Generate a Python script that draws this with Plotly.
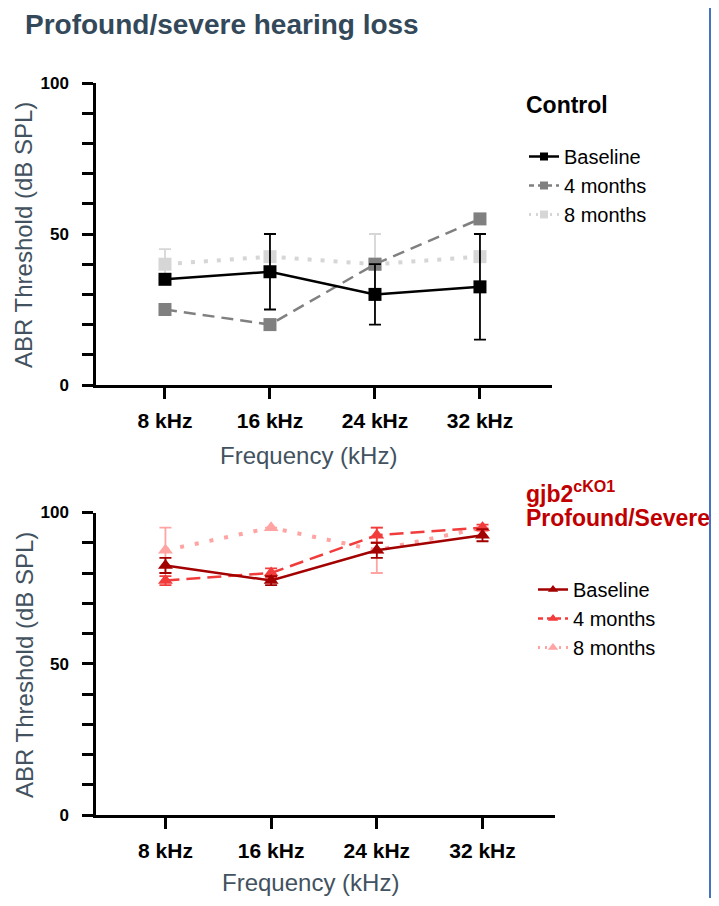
import plotly.graph_objects as go

# ---------------- data ----------------
freqs = ["8 kHz", "16 kHz", "24 kHz", "32 kHz"]
series_names = ["Baseline", "4 months", "8 months"]

# Control group (dB SPL)
ctrl_baseline = [35, 37.5, 30, 32.5]
ctrl_baseline_err = [0, 12.5, 10, 17.5]
ctrl_4m = [25, 20, 40, 55]
ctrl_4m_err = [0, 0, 0, 0]
ctrl_8m = [40, 42.5, 40, 42.5]
ctrl_8m_err = [5, 0, 10, 0]

# gjb2 cKO1 profound/severe group (dB SPL)
ko_baseline = [82.5, 77.5, 87.5, 92.5]
ko_baseline_err = [2.5, 1.5, 2.5, 2]
ko_4m = [77.5, 80, 92.5, 95]
ko_4m_err = [1.5, 1.5, 2.5, 1]
ko_8m = [87.5, 95, 87.5, 95]
ko_8m_err = [7.5, 0, 7.5, 0]

y_tick_vals = [0, 10, 20, 30, 40, 50, 60, 70, 80, 90, 100]
y_tick_text = ["0", "", "", "", "", "50", "", "", "", "", "100"]

# ---------------- figure ----------------
# page body has an 8px margin; keep the figure inside the 719x906 window
OFF = 8
W, H = 719 - 2 * OFF, 906 - 2 * OFF
fig = go.Figure()

ctrl_colors = ["#000000", "#808080", "#d6d6d6"]
ko_colors = ["#a30000", "#f23c3c", "#ffa3a3"]
ctrl_dash = ["solid", "12px,7px", "4px,9px"]
ko_dash = ["solid", "14px,7px", "4px,11px"]
widths = [2.5, 2.5, 4]

ctrl_data = [(ctrl_baseline, ctrl_baseline_err), (ctrl_4m, ctrl_4m_err), (ctrl_8m, ctrl_8m_err)]
ko_data = [(ko_baseline, ko_baseline_err), (ko_4m, ko_4m_err), (ko_8m, ko_8m_err)]

# draw 8 months first, baseline last (on top)
for i in [2, 1, 0]:
    vals, errs = ctrl_data[i]
    fig.add_trace(go.Scatter(
        x=freqs, y=vals, mode="lines+markers", showlegend=False,
        line=dict(color=ctrl_colors[i], width=widths[i], dash=ctrl_dash[i]),
        marker=dict(symbol="square", size=13, color=ctrl_colors[i]),
        error_y=dict(type="data", array=errs, visible=True, color=ctrl_colors[i],
                     thickness=1.8, width=6),
        xaxis="x", yaxis="y", cliponaxis=False))
for i in [2, 1, 0]:
    vals, errs = ko_data[i]
    fig.add_trace(go.Scatter(
        x=freqs, y=vals, mode="lines+markers", showlegend=False,
        line=dict(color=ko_colors[i], width=widths[i], dash=ko_dash[i]),
        marker=dict(symbol="triangle-up", size=13, color=ko_colors[i]),
        error_y=dict(type="data", array=errs, visible=True, color=ko_colors[i],
                     thickness=1.8, width=6),
        xaxis="x2", yaxis="y2", cliponaxis=False))

# legend entries
for i in range(3):
    fig.add_trace(go.Scatter(
        x=[None], y=[None], mode="lines+markers", name=series_names[i],
        line=dict(color=ctrl_colors[i], width=2.5 if i < 2 else 3,
                  dash=["solid", "5px,4px", "2px,5px"][i]),
        marker=dict(symbol="square", size=8, color=ctrl_colors[i]),
        xaxis="x", yaxis="y", legend="legend"))
for i in range(3):
    fig.add_trace(go.Scatter(
        x=[None], y=[None], mode="lines+markers", name=series_names[i],
        line=dict(color=ko_colors[i], width=2.5 if i < 2 else 3,
                  dash=["solid", "5px,4px", "2px,5px"][i]),
        marker=dict(symbol="triangle-up", size=9, color=ko_colors[i]),
        xaxis="x2", yaxis="y2", legend="legend2"))

def px_x(p):
    return (p - OFF) / W

def px_y(p):
    return 1 - (p - OFF) / H

xaxis_common = dict(
    type="category", categoryorder="array", categoryarray=freqs,
    range=[-0.657, 3.686], showline=True, linecolor="black", linewidth=2.5,
    ticks="outside", ticklen=11, tickwidth=2.5, tickcolor="black",
    tickfont=dict(family="Liberation Sans, Arial, sans-serif", size=21,
                  color="black", weight="bold"),
    showgrid=False, zeroline=False, fixedrange=True, ticklabelstandoff=4,
    automargin=False)
yaxis_common = dict(
    range=[0, 100], tickmode="array", tickvals=y_tick_vals, ticktext=y_tick_text,
    showline=True, linecolor="black", linewidth=2.5,
    ticks="outside", ticklen=11, tickwidth=2.5, tickcolor="black",
    tickfont=dict(family="Liberation Sans, Arial, sans-serif", size=17,
                  color="black", weight="bold"),
    showgrid=False, zeroline=False, fixedrange=True, ticklabelstandoff=10,
    automargin=False)

fig.update_layout(
    width=W, height=H, margin=dict(l=0, r=0, t=0, b=0, autoexpand=False),
    paper_bgcolor="white", plot_bgcolor="white",
    xaxis=dict(xaxis_common, domain=[px_x(96), px_x(552)], anchor="y"),
    yaxis=dict(yaxis_common, domain=[px_y(385), px_y(83)], anchor="x"),
    xaxis2=dict(xaxis_common, domain=[px_x(96), px_x(555)], anchor="y2"),
    yaxis2=dict(yaxis_common, domain=[px_y(815), px_y(512.5)], anchor="x2"),
    legend=dict(x=px_x(524), y=px_y(137), xanchor="left", yanchor="top",
                bgcolor="rgba(0,0,0,0)", borderwidth=0, itemwidth=30,
                font=dict(family="Liberation Sans, Arial, sans-serif", size=20, color="black")),
    legend2=dict(x=px_x(533), y=px_y(570), xanchor="left", yanchor="top",
                 bgcolor="rgba(0,0,0,0)", borderwidth=0, itemwidth=30,
                 font=dict(family="Liberation Sans, Arial, sans-serif", size=20, color="black")),
    showlegend=True,
)

title_color = "#33495a"
axis_title_color = "#42525f"
annotations = [
    dict(text="<b>Profound/severe hearing loss</b>", x=px_x(23), y=1,
         xanchor="left", yanchor="top", yshift=1,
         font=dict(family="Liberation Sans, Arial, sans-serif", size=28, color=title_color)),
    dict(text="ABR Threshold (dB SPL)", x=px_x(24), y=px_y(235), textangle=-90,
         xanchor="center", yanchor="middle",
         font=dict(family="Liberation Sans, Arial, sans-serif", size=24, color=axis_title_color)),
    dict(text="ABR Threshold (dB SPL)", x=px_x(24), y=px_y(665), textangle=-90,
         xanchor="center", yanchor="middle",
         font=dict(family="Liberation Sans, Arial, sans-serif", size=24, color=axis_title_color)),
    dict(text="Frequency (kHz)", x=px_x(308), y=px_y(455),
         xanchor="center", yanchor="middle",
         font=dict(family="Liberation Sans, Arial, sans-serif", size=24, color=axis_title_color)),
    dict(text="Frequency (kHz)", x=px_x(310), y=0,
         xanchor="center", yanchor="bottom",
         font=dict(family="Liberation Sans, Arial, sans-serif", size=24, color=axis_title_color)),
    dict(text="<b>Control</b>", x=px_x(524), y=px_y(105),
         xanchor="left", yanchor="middle",
         font=dict(family="Liberation Sans, Arial, sans-serif", size=23, color="black")),
    dict(text="<b>gjb2<sup>cKO1</sup></b>", x=px_x(524), y=px_y(492),
         xanchor="left", yanchor="middle",
         font=dict(family="Liberation Sans, Arial, sans-serif", size=23, color="#c00000")),
    dict(text="<b>Profound/Severe</b>", x=px_x(524), y=px_y(518),
         xanchor="left", yanchor="middle",
         font=dict(family="Liberation Sans, Arial, sans-serif", size=23, color="#c00000")),
]
for a in annotations:
    a.update(xref="paper", yref="paper", showarrow=False)
fig.update_layout(annotations=annotations)

fig.add_shape(type="line", xref="paper", yref="paper",
              x0=px_x(710), x1=px_x(710), y0=0, y1=1,
              line=dict(color="#4472c4", width=2))

fig.write_html("out.html")
